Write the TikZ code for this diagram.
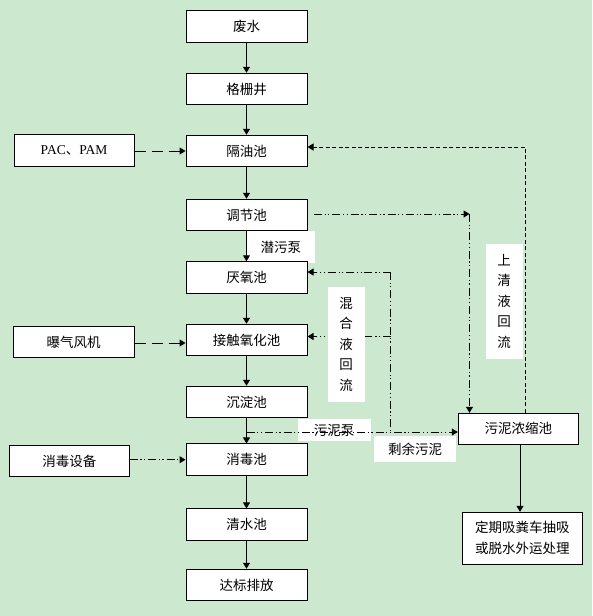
\documentclass[tikz,border=0pt]{standalone}
\usepackage{fontspec}
\setmainfont{Noto Sans CJK SC}
\newfontfamily\latserif{Liberation Serif}
\usetikzlibrary{arrows.meta}
\definecolor{bg}{RGB}{204,232,207}
\begin{document}
\begin{tikzpicture}[x=1pt,y=-1pt,
  box/.style={draw=black, fill=white, line width=1pt, minimum width=121pt, minimum height=31.5pt, inner sep=0pt, font=\fontsize{13.5}{21}\selectfont, align=center},
  lab/.style={fill=white, inner sep=0pt, font=\fontsize{13.5}{20.5}\selectfont, align=center},
  flow/.style={line width=1pt, -{Triangle[length=6pt,width=7pt]}},
  ddot/.style={dash pattern=on 8pt off 2.5pt on 1.2pt off 2.5pt on 1.2pt off 3pt},
  ldash/.style={dash pattern=on 11pt off 6pt},
  sdash/.style={dash pattern=on 4pt off 2.5pt}]
\useasboundingbox[fill=bg] (0,0) rectangle (592,616);
% labels drawn beneath the lines
\node[lab, minimum width=68pt, minimum height=32pt] (lqw) at (280.8,247) {潜污泵};
\node[lab, minimum width=73pt, minimum height=21.5pt] (lpump) at (334,430) {污泥泵};
% main column
\node[box] (n1) at (246.5,26.5) {废水};
\node[box] (n2) at (246.5,89) {格栅井};
\node[box] (n3) at (246.5,151) {隔油池};
\node[box] (n4) at (246.5,215) {调节池};
\node[box] (n5) at (246.5,277.5) {厌氧池};
\node[box] (n6) at (246.5,340) {接触氧化池};
\node[box] (n7) at (246.5,402) {沉淀池};
\node[box] (n8) at (246.5,459.7) {消毒池};
\node[box] (n9) at (246.5,524.7) {清水池};
\node[box] (n10) at (246.5,585) {达标排放};
% side boxes
\node[box, minimum width=120pt] (pac) at (74,150.5) {{\latserif PAC}、{\latserif PAM}};
\node[box, minimum width=121pt] (fan) at (73.7,342) {曝气风机};
\node[box, minimum width=120pt] (dis) at (69.3,461) {消毒设备};
\node[box, minimum width=120pt, minimum height=31pt] (thick) at (518.3,428.8) {污泥浓缩池};
\node[box, minimum width=120pt, minimum height=52pt] (final) at (522.3,538.3) {定期吸粪车抽吸\\或脱水外运处理};
% main flow
\draw[flow] (n1) -- (n2);
\draw[flow] (n2) -- (n3);
\draw[flow] (n3) -- (n4);
\draw[flow] (n4) -- (n5);
\draw[flow] (n5) -- (n6);
\draw[flow] (n6) -- (n7);
\draw[flow] (n7) -- (n8);
\draw[flow] (n8) -- (n9);
\draw[flow] (n9) -- (n10);
% inputs
\draw[flow, ldash] (pac.east |- n3.west) -- (n3.west);
\draw[flow, ldash] (fan.east |- 0,343) -- (n6.west |- 0,343);
\draw[flow, ddot] (dis.east |- n8.west) -- (n8.west);
% supernatant return
\coordinate (c1) at (525.3,147);
\draw[flow, sdash] (thick.north -| c1) -- (c1) -- (c1 -| n3.east);
% from regulating tank to thickener
\coordinate (s1) at (314,214);
\coordinate (c2) at (469.5,214);
\draw[flow, ddot] (s1) -- (c2);
\draw[flow, ddot] (c2) -- (c2 |- thick.north);
% sludge pump line
\coordinate (p1) at (246.7,432);
\draw[flow, ddot] (p1) -- (p1 -| thick.west);
% mixed liquor return
\coordinate (m1) at (390.7,272);
\coordinate (m2) at (390.7,336.5);
\draw[line width=1pt, ddot] (m1) -- (m1 |- p1);
\draw[flow, ddot] (m1) -- (m1 -| n5.east);
\draw[flow, ddot] (m2) -- (m2 -| n6.east);
% sludge to final disposal
\draw[flow] (thick.south -| 520,0) -- (final.north -| 520,0);
% labels above the lines
\node[lab, minimum width=37pt, minimum height=115pt] (lmix) at (346,344.2) {混\\合\\液\\回\\流};
\node[lab, minimum width=37pt, minimum height=115pt] (lsup) at (504.2,301.3) {上\\清\\液\\回\\流};
\node[lab, minimum width=81.7pt, minimum height=26.6pt] (lrest) at (415.2,449) {剩余污泥};
\end{tikzpicture}
\end{document}
